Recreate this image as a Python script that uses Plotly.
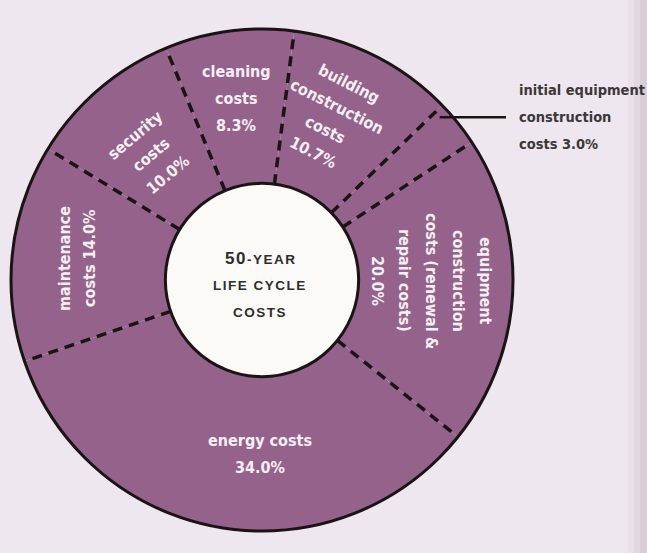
import math
import plotly.graph_objects as go

# ---------------- data ----------------
categories = [
    "cleaning costs",
    "building construction costs",
    "initial equipment construction costs",
    "equipment construction costs (renewal & repair costs)",
    "energy costs",
    "maintenance costs",
    "security costs",
]
values = [8.3, 10.7, 3.0, 20.0, 34.0, 14.0, 10.0]
label_lines = [
    ["cleaning", "costs", "8.3%"],
    ["building", "construction", "costs", "10.7%"],
    ["initial equipment", "construction", "costs 3.0%"],
    ["equipment", "construction", "costs (renewal &", "repair costs)", "20.0%"],
    ["energy costs", "34.0%"],
    ["maintenance", "costs 14.0%"],
    ["security", "costs", "10.0%"],
]
center_lines = ["<span style='font-size:17px'>50</span>-YEAR", "LIFE CYCLE", "COSTS"]

# ---------------- style / geometry ----------------
W, H = 647, 553
CX, CY, R = 262, 280, 251
HOLE = 0.385
ROT = -22.5
BG = "#efe7ef"
PURPLE = "#94628a"
TXT_W = "#f6f0f4"
TXT_D = "#3a3838"
LBL_FONT = "DejaVu Sans Condensed"

# per-slice label style: (radius px, angle offset deg, textangle, line spacing, inside?)
label_style = [
    (183, -0.5, 0, 27, True),
    (176, -3.6, 27, 26, True),
    (None, None, 0, 27, False),
    (169, -2.4, 90, 27, True),
    (174, -9.2, 0, 27, True),
    (187, 0.4, -90, 25, True),
    (167, -1.0, -40, 26, True),
]


def px2paper(x, y):
    return x / W, (H - y) / H


def polar(r, ang):
    a = math.radians(ang)
    return CX + r * math.sin(a), CY - r * math.cos(a)


total = sum(values)
bounds = []
acc = 0.0
for v in values:
    bounds.append(ROT + 360.0 * acc / total)
    acc += v
mids = [bounds[i] + 180.0 * values[i] / total for i in range(len(values))]

fig = go.Figure()
fig.add_trace(go.Pie(
    labels=categories,
    values=values,
    sort=False,
    direction="clockwise",
    rotation=ROT,
    hole=HOLE,
    textinfo="none",
    hoverinfo="label+percent",
    marker=dict(colors=[PURPLE] * len(values), line=dict(width=0)),
    domain=dict(x=[(CX - R) / W, (CX + R) / W], y=[(H - CY - R) / H, (H - CY + R) / H]),
    showlegend=False,
))

shapes = []
rin = R * HOLE
# dashed dividers derived from cumulative values
for b in bounds:
    x0, y0 = px2paper(*polar(rin, b))
    x1, y1 = px2paper(*polar(R, b))
    shapes.append(dict(type="line", xref="paper", yref="paper", x0=x0, y0=y0, x1=x1, y1=y1,
                       line=dict(color="#1a1414", width=3.5, dash="10px,7px"), layer="above"))
# outer border
ox0, oy0 = px2paper(CX - R, CY + R)
ox1, oy1 = px2paper(CX + R, CY - R)
shapes.append(dict(type="circle", xref="paper", yref="paper", x0=ox0, y0=oy0, x1=ox1, y1=oy1,
                   line=dict(color="#1a1414", width=3), layer="above"))
# inner white disc
ix0, iy0 = px2paper(CX - rin, CY + rin)
ix1, iy1 = px2paper(CX + rin, CY - rin)
shapes.append(dict(type="circle", xref="paper", yref="paper", x0=ix0, y0=iy0, x1=ix1, y1=iy1,
                   fillcolor="#fbfaf7", line=dict(color="#1a1414", width=3), layer="above"))

# page-edge shading on the right
for xa, xb, col in [(628, 634, "#e9e0e8"), (634, 640, "#e2d8e1"), (640, 647, "#d9cdd8")]:
    shapes.append(dict(type="rect", xref="paper", yref="paper", x0=xa / W, x1=xb / W, y0=0, y1=1,
                       fillcolor=col, line=dict(width=0), layer="below"))

annotations = []
for i, lines in enumerate(label_lines):
    r, off, ta, sp, inside = label_style[i]
    if inside:
        bx, by = polar(r, mids[i] + off)
        th = math.radians(ta)
        vx, vy = -math.sin(th), math.cos(th)
        n = len(lines)
        for k, t in enumerate(lines):
            d = (k - (n - 1) / 2.0) * sp
            lx, ly = bx + d * vx, by + d * vy
            xp, yp = px2paper(lx, ly)
            annotations.append(dict(x=xp, y=yp, xref="paper", yref="paper", text=t, showarrow=False,
                                    textangle=ta, xanchor="center", yanchor="middle",
                                    font=dict(family=LBL_FONT, size=16, color=TXT_W, weight="bold")))
    else:
        # outside label with leader line
        sx, sy = polar(R * 0.96, mids[i] - 3.8)
        tx = 517
        shapes.append(dict(type="line", xref="paper", yref="paper",
                           x0=sx / W, y0=(H - sy) / H, x1=(tx - 11) / W, y1=(H - sy) / H,
                           line=dict(color="#1a1414", width=2.5), layer="above"))
        for k, t in enumerate(lines):
            ly = sy + (k - 1) * sp
            xp, yp = px2paper(tx, ly)
            annotations.append(dict(x=xp, y=yp, xref="paper", yref="paper", text=t, showarrow=False,
                                    xanchor="left", yanchor="middle",
                                    font=dict(family=LBL_FONT, size=14.5, color=TXT_D, weight="bold")))

for k, t in enumerate(center_lines):
    xp, yp = px2paper(CX - 2, CY - 22 + k * 27)
    annotations.append(dict(x=xp, y=yp, xref="paper", yref="paper", showarrow=False,
                            text="<span style='letter-spacing:1.5px'>" + t + "</span>",
                            xanchor="center", yanchor="middle",
                            font=dict(family="Liberation Sans", size=13.5, color="#2e2c2c", weight="bold")))

fig.update_layout(
    width=W, height=H,
    margin=dict(l=0, r=0, t=0, b=0),
    paper_bgcolor=BG, plot_bgcolor=BG,
    shapes=shapes, annotations=annotations,
)

fig.write_html("out.html", config={"displayModeBar": False},
               post_script="document.body.style.margin='0';document.body.style.overflow='hidden';")
